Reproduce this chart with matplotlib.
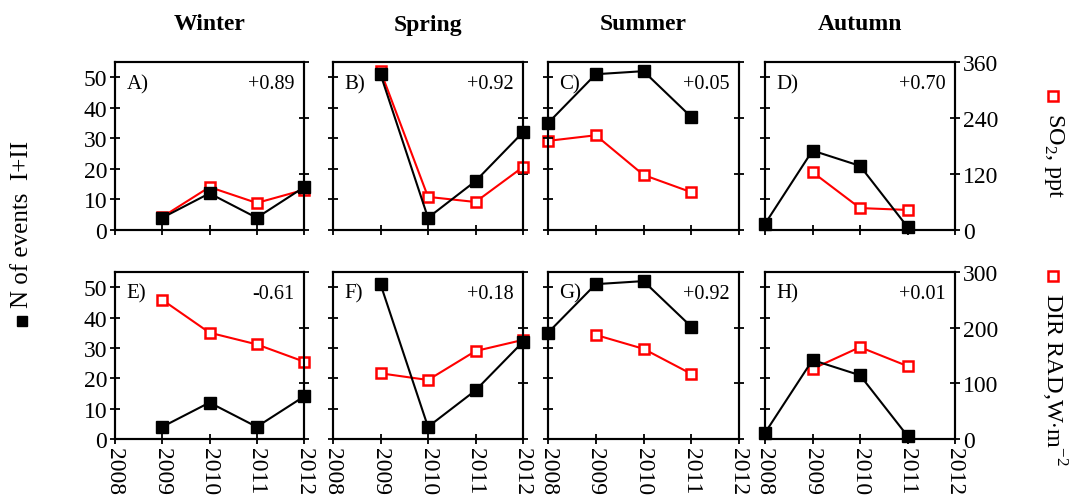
import matplotlib
matplotlib.use("Agg")
import matplotlib.pyplot as plt
from matplotlib.lines import Line2D

plt.rcParams['font.family'] = ['Liberation Serif', 'DejaVu Serif']
plt.rcParams['mathtext.fontset'] = 'custom'
plt.rcParams['mathtext.rm'] = 'Liberation Serif'

seasons = ["Winter", "Spring", "Summer", "Autumn"]
years = [2008, 2009, 2010, 2011, 2012]

# N of events I+II (same in both rows)
ev_years = [[2009, 2010, 2011, 2012],
            [2009, 2010, 2011, 2012],
            [2008, 2009, 2010, 2011],
            [2008, 2009, 2010, 2011]]
events = [[4, 12, 4, 14],
          [51, 4, 16, 32],
          [35, 51, 52, 37],
          [2, 26, 21, 1]]

# SO2, ppt
so2_years = [[2009, 2010, 2011, 2012],
             [2009, 2010, 2011, 2012],
             [2008, 2009, 2010, 2011],
             [2009, 2010, 2011]]
so2 = [[28, 92, 58, 86],
       [341, 71, 60, 135],
       [191, 203, 118, 81],
       [124, 47, 43]]

# DIR RAD, W m-2
rad_years = [[2009, 2010, 2011, 2012],
             [2009, 2010, 2011, 2012],
             [2009, 2010, 2011],
             [2009, 2010, 2011]]
rad = [[250, 191, 170, 139],
       [118, 106, 158, 178],
       [187, 162, 117],
       [126, 165, 131]]

letters_top = ["A)", "B)", "C)", "D)"]
letters_bot = ["E)", "F)", "G)", "H)"]
corr_top = ["+0.89", "+0.92", "+0.05", "+0.70"]
corr_bot = ["-0.61", "+0.18", "+0.92", "+0.01"]

W, H = 1070, 502
fig = plt.figure(figsize=(W / 100, H / 100), dpi=100)

lefts = [115, 333, 548, 765]
widths = [189, 190, 191, 190]
rows = [(63, 231), (273, 440)]

tfs = 17     # tick labels
afs = 15     # panel annotations


def panel(row, col, red_x, red_y, rmax, rticks, letter, corr):
    top, bot = rows[row]
    ax = fig.add_axes([lefts[col] / W, 1 - bot / H, widths[col] / W, (bot - top) / H])
    ax2 = ax.twinx()
    ax.plot(ev_years[col], events[col], color='black', lw=1.5, marker='s',
            ms=8, mfc='black', mec='black', clip_on=False, zorder=3)
    ax2.plot(red_x, red_y, color='red', lw=1.5, marker='s', ms=7.5,
             mfc='white', mec='red', mew=1.8, clip_on=False, zorder=4)
    ax.set_xlim(2008, 2012)
    ax.set_ylim(0, 55)
    ax2.set_ylim(0, rmax)
    ax.set_xticks(years)
    ax.set_yticks([0, 10, 20, 30, 40, 50])
    ax2.set_yticks(rticks)
    for a in (ax, ax2):
        for s in a.spines.values():
            s.set_linewidth(1.5)
    ax.tick_params(axis='both', direction='inout', length=7, width=1.3,
                   labelsize=tfs, pad=2)
    ax2.tick_params(axis='y', direction='inout', length=7, width=1.3,
                    labelsize=tfs, pad=2)
    if col != 0:
        ax.set_yticklabels([])
    if col != 3:
        ax2.set_yticklabels([])
    if row == 0:
        ax.set_xticklabels([])
    else:
        ax.set_xticklabels([str(y) for y in years], rotation=-90, va='top')
    ax.text(0.06, 0.93, letter, transform=ax.transAxes, ha='left', va='top',
            fontsize=afs)
    ax.text(0.95, 0.93, corr, transform=ax.transAxes, ha='right', va='top',
            fontsize=14.5)
    ax.set_zorder(ax2.get_zorder() + 1)
    ax.patch.set_visible(False)
    return ax


for c in range(4):
    panel(0, c, so2_years[c], so2[c], 360, [0, 120, 240, 360],
          letters_top[c], corr_top[c])
    panel(1, c, rad_years[c], rad[c], 300, [0, 100, 200, 300],
          letters_bot[c], corr_bot[c])
    cx = (lefts[c] + widths[c] / 2) / W
    fig.text(cx, 1 - 25 / H, seasons[c], ha='center', va='center',
             fontsize=17, fontweight='bold')

# left label
fig.text(22 / W, 1 - 224 / H, "N of events  I+II", rotation=90,
         ha='center', va='center', fontsize=18)
fig.add_artist(Line2D([22 / W], [1 - 322 / H], marker='s', ms=6.5,
                      color='black', transform=fig.transFigure))

# right labels
fig.add_artist(Line2D([1053 / W], [1 - 97 / H], marker='s', ms=6.5, mfc='white',
                      mec='red', mew=1.8, transform=fig.transFigure))
fig.text(1054 / W, 1 - 156 / H, "SO$_2$, ppt", rotation=-90,
         ha='center', va='center', fontsize=17.5)
fig.add_artist(Line2D([1053 / W], [1 - 277 / H], marker='s', ms=6.5, mfc='white',
                      mec='red', mew=1.8, transform=fig.transFigure))
fig.text(1054 / W, 1 - 380 / H, "DIR RAD,W$\\cdot$m$^{-2}$", rotation=-90,
         ha='center', va='center', fontsize=17.5)

fig.savefig("out.png", dpi=100)
